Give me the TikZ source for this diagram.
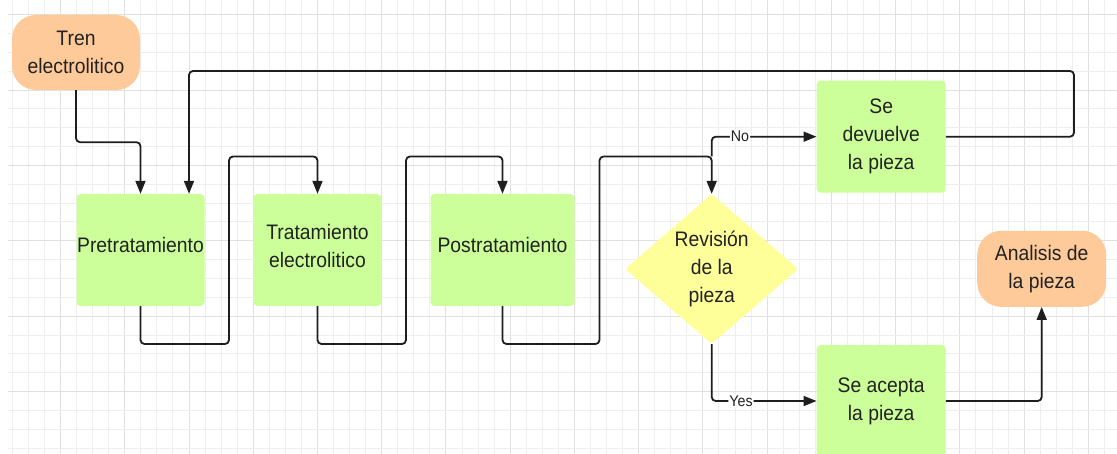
\documentclass[tikz,border=0pt]{standalone}
\usepackage{fontspec}
\setmainfont{Liberation Sans}[FakeStretch=0.92]
\usetikzlibrary{arrows.meta,shapes.geometric}
\definecolor{boxgreen}{HTML}{CCFF99}
\definecolor{termorange}{HTML}{FFCA99}
\definecolor{decyellow}{HTML}{FFFF99}
\definecolor{gridminor}{HTML}{EEEEEE}
\definecolor{gridmajor}{HTML}{E0E0E0}
\definecolor{linecol}{HTML}{1E1E1E}
\definecolor{textcol}{HTML}{222222}
\newcommand\mynodefont{\fontsize{21}{28}\selectfont}
\begin{document}
\begin{tikzpicture}[x=1pt,y=-1pt,
  process/.style={fill=boxgreen, rounded corners=4pt, minimum width=128pt, minimum height=112pt,
    inner sep=0pt, align=center, text=textcol, font=\mynodefont},
  terminal/.style={fill=termorange, rounded corners=24pt, minimum width=128pt, minimum height=75pt,
    inner sep=0pt, align=center, text=textcol, font=\mynodefont},
  decision/.style={diamond, fill=decyellow, rounded corners=3pt, minimum width=173pt, minimum height=148pt,
    inner sep=0pt, align=center, text=textcol, font=\mynodefont},
  liftup/.style={execute at end node={\rule[-#1]{0pt}{1pt}}},
  conn/.style={draw=linecol, line width=1.8pt, rounded corners=4pt},
  arr/.style={conn, -{Triangle[length=13pt,width=10pt]}},
  lbl/.style={fill=white, inner sep=1pt, text=textcol, font=\fontsize{15.5}{18}\selectfont}
]
\useasboundingbox (0,0) rectangle (1117,454);
\clip (0,0) rectangle (1117,454);
\fill[white] (0,0) rectangle (1117,454);
% grid
\foreach \k in {0,...,68}{
  \pgfmathtruncatemacro\m{mod(\k,4)}
  \ifnum\m=3 \def\gc{gridmajor}\else\def\gc{gridminor}\fi
  \draw[draw=\gc, line width=0.9pt] ({12.3+16.06*\k},0) -- ({12.3+16.06*\k},454);
}
\foreach \k in {0,...,23}{
  \pgfmathtruncatemacro\m{mod(\k,4)}
  \ifnum\m=0 \def\gc{gridmajor}\else\def\gc{gridminor}\fi
  \draw[draw=\gc, line width=0.9pt] (8,{14.6+18.85*\k}) -- (1117,{14.6+18.85*\k});
}
% nodes
\node[terminal] (tren) at (76,52.5) {Tren\\electrolitico};
\node[process, liftup=11pt] (pre) at (140.5,250) {Pretratamiento};
\node[process, liftup=8pt] (tra) at (317.5,250) {Tratamiento\\electrolitico};
\node[process, liftup=11pt, minimum width=144pt] (pos) at (502.5,250) {Postratamiento};
\node[decision] (rev) at (711.7,269) {Revisión\\de la\\pieza};
\node[process, minimum width=129pt] (dev) at (881.2,136.7) {Se\\devuelve\\la pieza};
\node[process, minimum width=129pt] (acc) at (881.2,401) {Se acepta\\la pieza};
\node[terminal, minimum width=129pt, minimum height=76pt] (ana) at (1041.7,268.8) {Analisis de\\la pieza};
% bend points
\coordinate (b1) at (229,344);
\coordinate (t1) at (229,156.5);
\coordinate (b2) at (406,344);
\coordinate (t2) at (406,156.5);
\coordinate (b3) at (599.5,344);
\coordinate (t3) at (599.5,156.5);
\coordinate (nj) at (711.7,156.5);
\coordinate (lr) at (1074,71);
\coordinate (ll) at (189,71);
% connectors
\draw[arr] (tren.south) -- ++(0,52) -| (pre.north);
\draw[arr] (pre.south) |- (b1) -- (t1) -| (tra.north);
\draw[arr] (tra.south) |- (b2) -- (t2) -| (pos.north);
\draw[arr] (pos.south) |- (b3) -- (t3) -| (rev.north);
\draw[arr] (nj) |- node[lbl, pos=0.635] (no) {No} (dev.west);
\draw[arr] (rev.south) |- node[lbl, pos=0.64] (yes) {Yes} (acc.west);
\draw[arr] (dev.east) -| (lr) -- (ll) -- (ll |- pre.north);
\draw[arr] (acc.east) -| (ana.south);
\end{tikzpicture}
\end{document}
